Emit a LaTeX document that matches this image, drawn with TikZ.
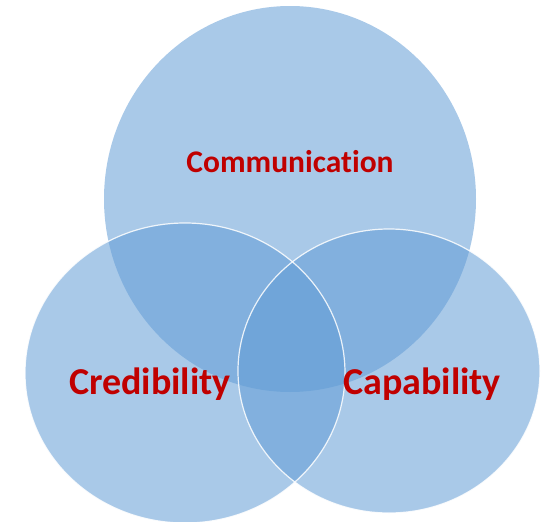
\documentclass[tikz,border=0pt]{standalone}
\usepackage{fontspec}
\setmainfont[Ligatures=NoCommon]{Carlito}
\definecolor{vennblue}{RGB}{98,156,213}
\definecolor{labelred}{RGB}{192,0,0}
\begin{document}
\begin{tikzpicture}[x=1pt,y=-1pt,
  venn/.style={fill=vennblue,fill opacity=0.55},
  rim/.style={draw=white,line width=1.2pt,draw opacity=0.85},
  lbl/.style={text=labelred,anchor=base,inner sep=0pt},
  toplbl/.style={lbl,font=\bfseries\fontsize{31.5}{36}\selectfont},
  lowlbl/.style={lbl,font=\bfseries\fontsize{38}{44}\selectfont}]
\useasboundingbox (0,0) rectangle (541,522);
\clip (0,0) rectangle (541,522);
\path[venn] (290,199) ellipse [x radius=186, y radius=193];
\path[venn] (185,373) ellipse [x radius=160, y radius=150];
\path[venn] (389,371) ellipse [x radius=151, y radius=142];
\path[rim] (185,373) ellipse [x radius=160, y radius=150];
\path[rim] (389,371) ellipse [x radius=151, y radius=142];
\node[toplbl] (comm) at (290,172) {Communication};
\node[lowlbl] (cred) at (150,394) {Credibility};
\node[lowlbl] (capa) at (422,394) {Capability};
\end{tikzpicture}
\end{document}
